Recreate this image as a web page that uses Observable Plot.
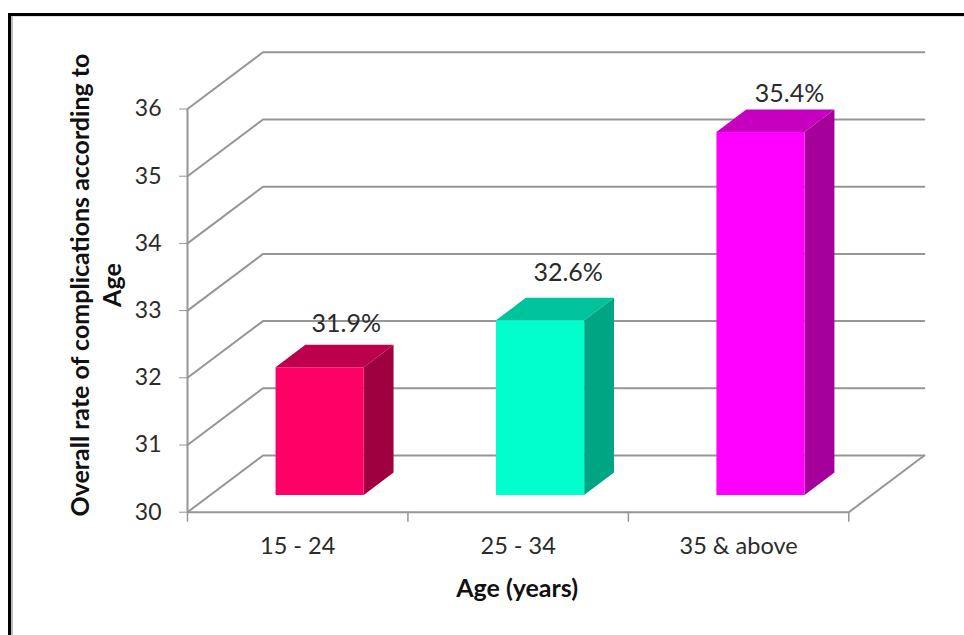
<!DOCTYPE html>
<html>
<head>
<meta charset="utf-8">
<script src="https://cdn.jsdelivr.net/npm/d3@7"></script>
<script src="https://cdn.jsdelivr.net/npm/@observablehq/plot@0.6"></script>
<style>
  html, body { margin: 0; padding: 0; background: #fff; overflow: hidden; }
  svg { display: block; }
  #border {
    position: absolute; left: 8px; top: 13px; width: 980px; height: 640px;
    border-left: 3px solid #000; border-top: 3px solid #000;
    box-shadow: inset 2px 0 0 #bdbdbd, inset 0 1px 0 #e2e2e2;
    pointer-events: none;
  }
</style>
</head>
<body>
<div id="chart"></div>
<div id="border"></div>
<script>
const ageGroups = ["15 - 24", "25 - 34", "35 & above"];
const rates = [31.9, 32.6, 35.4];
const frontColors = ["#ff0066", "#00ffcc", "#ff00ff"];
const topColors = ["#bd004b", "#00c29b", "#c700bf"];
const sideColors = ["#9e0040", "#00a684", "#a6009b"];
const yTicks = [30, 31, 32, 33, 34, 35, 36];
const xTicks = [0, 1, 2, 3];
const xTitle = "Age (years)";
const yTitle = "Overall rate of complications according to\nAge";

// Oblique projection: one unit of depth moves a point right and up, in scale units.
const depthX = 0.3425;
const depthY = 0.844;
const project = (band, value, depth) => ({x: band + depth * depthX, y: value + depth * depthY});

// Bars occupy the middle of the floor's depth and 40% of each band.
const barFront = 0.305;
const barBack = 0.70;
const barHalf = 0.2;
const base = yTicks[0];
const floorEnd = xTicks[xTicks.length - 1];

const faces = rates.flatMap((value, i) => {
  const mid = i + 0.5 - 0.005;
  const l = mid - barHalf, r = mid + barHalf;
  const face = (name, color, corners) =>
    corners.map(([b, v, d]) => ({id: `${i}-${name}`, color, ...project(b, v, d)}));
  return [
    ...face("side", sideColors[i], [[r, base, barFront], [r, base, barBack], [r, value, barBack], [r, value, barFront]]),
    ...face("top", topColors[i], [[l, value, barFront], [r, value, barFront], [r, value, barBack], [l, value, barBack]]),
    ...face("front", frontColors[i], [[l, base, barFront], [r, base, barFront], [r, value, barFront], [l, value, barFront]])
  ];
});

// Wall lines: each y tick runs back along the side wall, then across the back wall.
const wallLines = yTicks.flatMap((v) => [
  {id: v, ...project(0, v, 0)},
  {id: v, ...project(0, v, 1)},
  {id: v, ...project(floorEnd, v, 1)}
]);
const floorEdge = [project(floorEnd, base, 0), project(floorEnd, base, 1)];

const wall = {stroke: "#969696", strokeWidth: 2};
const labelFont = {fontFamily: "Lato, sans-serif", fill: "#2b2b2b"};
const titleFont = {fontFamily: "Lato, sans-serif", fill: "#111", fontWeight: "bold", fontSize: 25};

// Value labels sit above and to the right of the bars, each nudged clear of its bar.
const valueLabel = (i, dx, dy) => Plot.text([rates[i]], {
  x: () => i + 0.5, y: (d) => d, text: (d) => `${d.toFixed(1)}%`,
  dx, dy, fontSize: 25, ...labelFont
});
const bandLabel = (i) => Plot.text([ageGroups[i]], {
  x: () => i + 0.5, y: () => base, text: (d) => d,
  dy: 34, fontSize: 23.5, ...labelFont
});

const chart = Plot.plot({
  width: 964,
  height: 635,
  marginLeft: 187,
  marginRight: 115.7,
  marginTop: 108.5,
  marginBottom: 123.3,
  style: {background: "transparent"},
  color: {type: "identity"},
  x: {type: "linear", domain: [0, floorEnd], axis: null},
  y: {type: "linear", domain: [base, yTicks[yTicks.length - 1]], axis: null},
  marks: [
    Plot.line(wallLines, {x: "x", y: "y", z: "id", ...wall}),
    Plot.line(floorEdge, {x: "x", y: "y", ...wall}),
    Plot.ruleX([0], {...wall}),
    Plot.ruleY([base], {...wall}),
    Plot.axisY({
      ticks: yTicks, tickSize: 8, tickPadding: 18, fontSize: 23, stroke: "#969696",
      tickFormat: (d) => String(d), fontFamily: "Lato, sans-serif", color: "#2b2b2b", label: null
    }),
    Plot.axisX({
      ticks: xTicks, tickSize: 10, tickFormat: () => "", stroke: "#969696", strokeWidth: 1.5, label: null
    }),
    Plot.line(faces, {x: "x", y: "y", z: "id", fill: "color", stroke: "none", curve: "linear-closed"}),
    valueLabel(0, 48.5, -61),
    valueLabel(1, 50, -64),
    valueLabel(2, 51, -55),
    bandLabel(0),
    bandLabel(1),
    bandLabel(2),
    Plot.text([xTitle], {x: () => 1.5, y: () => base, text: (d) => d, dx: -1, dy: 77, ...titleFont}),
    Plot.text([yTitle], {
      x: () => 0, y: () => 33.38, text: (d) => d, rotate: -90, dx: -92.5, lineHeight: 1.25, ...titleFont
    })
  ]
});
document.getElementById("chart").append(chart);
</script>
</body>
</html>
